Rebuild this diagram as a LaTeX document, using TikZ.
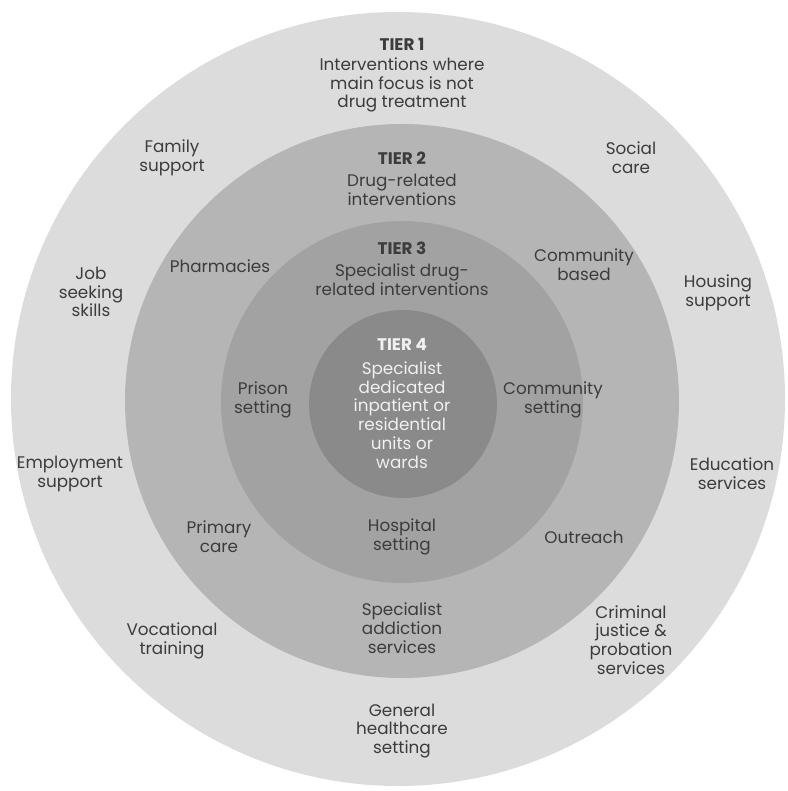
\documentclass[tikz,border=0pt]{standalone}
\usepackage{fontspec}
\setmainfont{Poppins}
\definecolor{ringA}{HTML}{DCDCDC}
\definecolor{ringB}{HTML}{B5B5B5}
\definecolor{ringC}{HTML}{A2A2A2}
\definecolor{ringD}{HTML}{8A8A8A}
\definecolor{txt}{HTML}{3C3C3C}
\definecolor{wtxt}{HTML}{F0F0F0}
\begin{document}
\begin{tikzpicture}[x=1pt,y=-1pt,
  ring/.style={circle,inner sep=0pt,draw=none},
  lbl/.style={align=center,text=txt,font=\fontsize{16.8}{18.7}\selectfont,inner sep=0pt},
  tier/.style={align=center,text=txt,font=\fontsize{16.8}{18.7}\selectfont\bfseries,inner sep=0pt},
  wlbl/.style={lbl,text=wtxt},
  wtier/.style={tier,text=wtxt}]
\useasboundingbox (0,0) rectangle (787,791);
\fill[white] (0,0) rectangle (787,791);
\node[ring,fill=ringA,minimum size=774pt] (t1) at (398,399) {};
\node[ring,fill=ringB,minimum size=554pt] (t2) at (402,401) {};
\node[ring,fill=ringC,minimum size=362pt] (t3) at (402,402) {};
\node[ring,fill=ringD,minimum size=188pt] (t4) at (403,404) {};
% Tier 1
\node[tier] (h1) at (402,44) {TIER 1};
\node[lbl] (d1) at (402,85) {Interventions where\\main focus is not\\drug treatment};
\node[lbl] (fam) at (172,158) {Family\\support};
\node[lbl] (soc) at (631,158) {Social\\care};
\node[lbl] (job) at (91,292) {Job\\seeking\\skills};
\node[lbl] (hou) at (718,293) {Housing\\support};
\node[lbl] (emp) at (70,474) {Employment\\support};
\node[lbl] (edu) at (732,474) {Education\\services};
\node[lbl] (voc) at (172,641) {Vocational\\training};
\node[lbl] (cri) at (631,640) {Criminal\\justice \&\\probation\\services};
\node[lbl] (gen) at (402,731) {General\\healthcare\\setting};
% Tier 2
\node[tier] (h2) at (402,158) {TIER 2};
\node[lbl] (d2) at (402,190) {Drug-related\\interventions};
\node[lbl] (pha) at (220,266) {Pharmacies};
\node[lbl] (com) at (584,265) {Community\\based};
\node[lbl] (pri) at (219,537) {Primary\\care};
\node[lbl] (out) at (584,537) {Outreach};
\node[lbl] (spa) at (402,628) {Specialist\\addiction\\services};
% Tier 3
\node[tier] (h3) at (402,248) {TIER 3};
\node[lbl] (d3) at (402,280) {Specialist drug-\\related interventions};
\node[lbl] (pri2) at (263,400) {Prison\\setting};
\node[lbl] (cse) at (553,400) {Community\\setting};
\node[lbl] (hos) at (402,537) {Hospital\\setting};
% Tier 4
\node[wtier] (h4) at (402,344) {TIER 4};
\node[wlbl] (d4) at (402,415) {Specialist\\dedicated\\inpatient or\\residential\\units or\\wards};
\end{tikzpicture}
\end{document}
